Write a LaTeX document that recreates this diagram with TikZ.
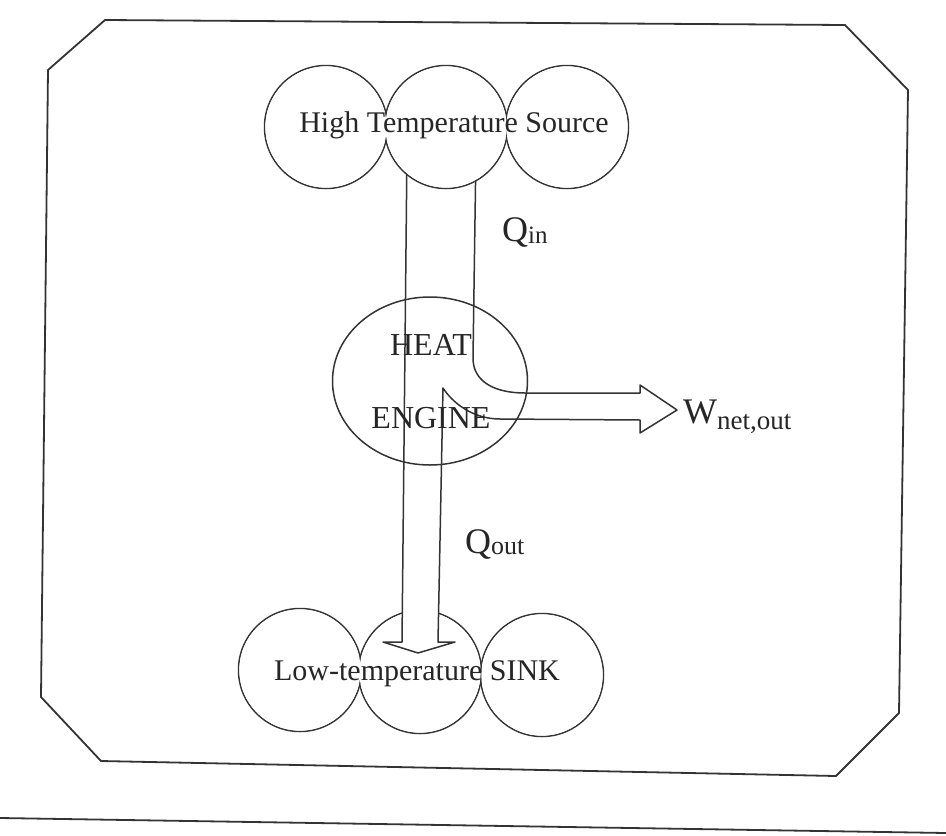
\documentclass[tikz,border=0pt]{standalone}
\usepackage{fontspec}
\setmainfont{Liberation Serif}
\usetikzlibrary{shapes.geometric}
\begin{document}
\begin{tikzpicture}[x=1pt,y=-1pt,line join=round,
  ln/.style={line width=1.5pt,draw=black!80},
  ball/.style={circle,draw=black!80,line width=1.5pt,minimum size=123pt,inner sep=0pt},
  bigtxt/.style={font=\fontsize{30}{30}\selectfont,text=black!85,inner sep=0pt,anchor=base},
  engtxt/.style={font=\fontsize{32}{32}\selectfont,text=black!85,inner sep=0pt,anchor=base},
  qlbl/.style={text=black!85,inner sep=0pt,anchor=base west}]
\useasboundingbox (0,0) rectangle (946,836);
% frame
\draw[line width=1.8pt,black!80] (48,70) -- (105,20) -- (845,25) -- (908,90) -- (899,713) -- (836,776) -- (101,761) -- (41,697) -- cycle;
\coordinate (bl0) at (0,818);
\coordinate (bl1) at (946,833);
\draw[line width=1.8pt,black!80] (bl0) -- (bl1);
% low temperature sink
\node[ball] (lo1) at (300,670) {};
\node[ball] (lo2) at (420,672) {};
\node[ball] (lo3) at (542,675) {};
\foreach \n in {lo1,lo2,lo3} \fill[white] (\n.center) circle[radius=60.6pt];
\node[bigtxt] (sink) at (417,680) {Low-temperature SINK};
% arrow geometry
\coordinate (L0) at (407,150);
\coordinate (L1) at (402,642);
\coordinate (R0) at (476,150);
\coordinate (R1) at (473,358);
\coordinate (Wu1) at (525,393);
\coordinate (Wu2) at (640,393);
\coordinate (Wh1) at (640,385);
\coordinate (Wtip) at (677,410);
\coordinate (Wh2) at (640,433);
\coordinate (Wl2) at (640,420);
\coordinate (Wl1) at (500,419);
\coordinate (I0) at (443,388);
\coordinate (I1) at (438,642);
\coordinate (Bh1) at (383,642);
\coordinate (Btip) at (418,653);
\coordinate (Bh2) at (455,642);
% white cover where the Q_out arrow enters the sink
\fill[white] (402,595) -- (L1) -- (Bh1) -- (Btip) -- (Bh2) -- (I1) -- (438,595) -- cycle;
% energy flow band
\draw[ln] (L0) -- (L1) -- (Bh1) -- (Btip) -- (Bh2) -- (I1) -- (I0)
  .. controls (452,402) and (472,419) .. (Wl1) -- (Wl2) -- (Wh2) -- (Wtip) -- (Wh1) -- (Wu2) -- (Wu1)
  .. controls (495,393) and (473,382) .. (R1) -- (R0);
% high temperature source
\node[ball] (hs1) at (326,127) {};
\node[ball] (hs2) at (446,127) {};
\node[ball] (hs3) at (567,127) {};
\foreach \n in {hs1,hs2,hs3} \fill[white] (\n.center) circle[radius=60.6pt];
\node[bigtxt] (src) at (454,132) {High Temperature Source};
% heat engine
\node[ellipse,draw=black!80,line width=1.5pt,minimum width=195pt,minimum height=168pt,inner sep=0pt] (eng) at (430,381) {};
\node[engtxt] (heat) at (431,355) {HEAT};
\node[engtxt] (engine) at (431,428) {ENGINE};
% labels
\node[qlbl] (qin) at (502,241) {\fontsize{36}{36}\selectfont Q\raisebox{-2pt}{\fontsize{25}{25}\selectfont in}};
\node[qlbl] (qout) at (465,553) {\fontsize{36}{36}\selectfont Q\raisebox{-1pt}{\fontsize{26}{26}\selectfont out}};
\node[qlbl] (wnet) at (683,423) {\fontsize{36}{36}\selectfont W\raisebox{-6pt}{\fontsize{27}{27}\selectfont net,out}};
\end{tikzpicture}
\end{document}
